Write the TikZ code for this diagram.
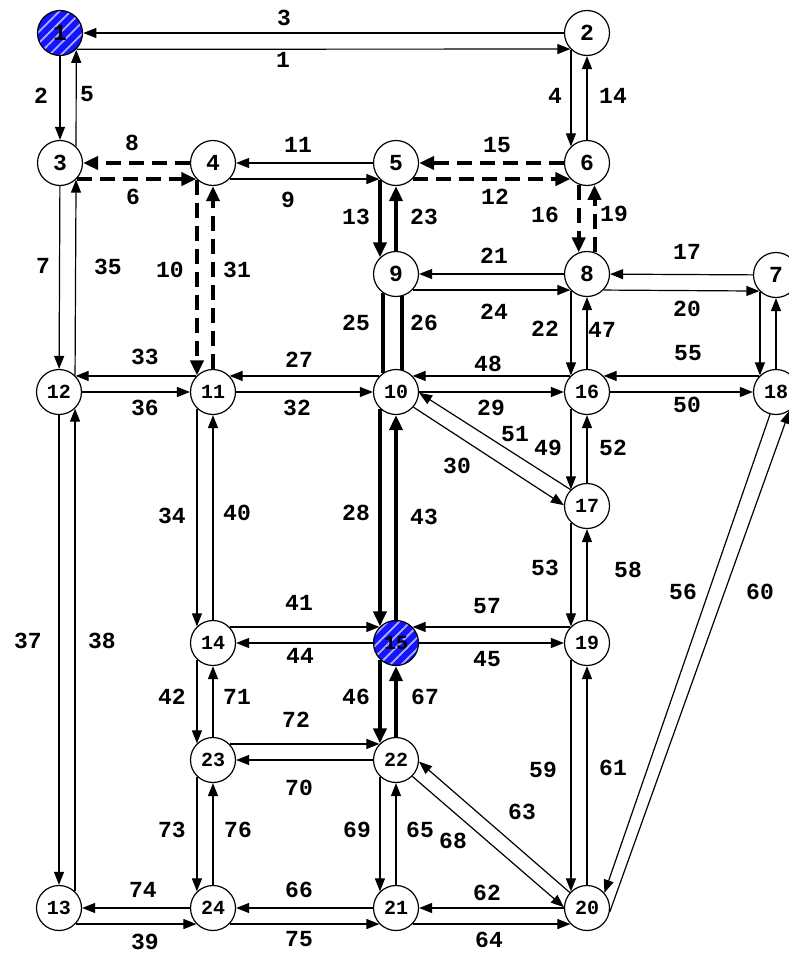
\documentclass[tikz,border=0pt]{standalone}
\usepackage{fontspec}
\setmonofont{Liberation Mono}
\usetikzlibrary{arrows.meta,patterns.meta}
\newcommand\edgelab[3]{\node[lbl] (l#1) at (#2,#3) {#1};}
\begin{document}
\begin{tikzpicture}[x=1pt,y=-1pt,
  nd/.style={circle,draw,line width=1.2pt,minimum size=45pt,inner sep=0pt,fill=white,
    font=\ttfamily\bfseries\fontsize{23}{23}\selectfont},
  nd2/.style={nd,font=\ttfamily\bfseries\fontsize{20}{20}\selectfont},
  hatch/.style={preaction={fill={rgb,255:red,20;green,20;blue,255}},
    pattern={Lines[angle=45,distance=8pt,line width=1.8pt]},
    pattern color={rgb,255:red,175;green,175;blue,255}},
  lbl/.style={font=\ttfamily\bfseries\fontsize{23}{23}\selectfont,inner sep=0pt},
  ed/.style={line width=1.2pt,-{Triangle[length=13pt,width=10pt]}},
  thk/.style={line width=4pt,-{Triangle[length=15pt,width=13pt]}},
  thkn/.style={line width=4pt},
  dsh/.style={thk,dash pattern=on 15pt off 8pt},
]
\clip (0,0) rectangle (789,953);
% nodes
\node[nd,hatch] (n1) at (60,33) {1};
\node[nd] (n2) at (587,33) {2};
\node[nd] (n3) at (60,163) {3};
\node[nd] (n4) at (213,163) {4};
\node[nd] (n5) at (396,163) {5};
\node[nd] (n6) at (587,163) {6};
\node[nd] (n7) at (776,275) {7};
\node[nd] (n8) at (587,274) {8};
\node[nd] (n9) at (396,274) {9};
\node[nd2] (n10) at (396,392) {10};
\node[nd2] (n11) at (213,392) {11};
\node[nd2] (n12) at (59,392) {12};
\node[nd2] (n13) at (59,908) {13};
\node[nd2] (n14) at (213,643) {14};
\node[nd2,hatch] (n15) at (396,643) {15};
\node[nd2] (n16) at (587,392) {16};
\node[nd2] (n17) at (587,506) {17};
\node[nd2] (n18) at (776,392) {18};
\node[nd2] (n19) at (587,643) {19};
\node[nd2] (n20) at (587,908) {20};
\node[nd2] (n21) at (396,908) {21};
\node[nd2] (n22) at (396,760) {22};
\node[nd2] (n23) at (213,760) {23};
\node[nd2] (n24) at (213,908) {24};
% horizontal links
\draw[ed] (n2) -- (n1);
\draw[ed] (n1.-44) -- (n2.-136);
\draw[dsh] (n4) -- (n3);
\draw[dsh] (n3.-44) -- (n4.-136);
\draw[ed] (n5) -- (n4);
\draw[ed] (n4.-44) -- (n5.-136);
\draw[dsh] (n6) -- (n5);
\draw[dsh] (n5.-44) -- (n6.-136);
\draw[ed] (n8) -- (n9);
\draw[ed] (n9.-44) -- (n8.-136);
\draw[ed] (n7) -- (n8);
\draw[ed] (n8.-44) -- (n7.-136);
\draw[ed] (n11.136) -- (n12.44);
\draw[ed] (n12) -- (n11);
\draw[ed] (n10.136) -- (n11.44);
\draw[ed] (n11) -- (n10);
\draw[ed] (n16.136) -- (n10.44);
\draw[ed] (n10) -- (n16);
\draw[ed] (n18.136) -- (n16.44);
\draw[ed] (n16) -- (n18);
\draw[ed] (n14.44) -- (n15.136);
\draw[ed] (n15) -- (n14);
\draw[ed] (n19.136) -- (n15.44);
\draw[ed] (n15) -- (n19);
\draw[ed] (n23.44) -- (n22.136);
\draw[ed] (n22) -- (n23);
\draw[ed] (n24) -- (n13);
\draw[ed] (n13.-44) -- (n24.-136);
\draw[ed] (n21) -- (n24);
\draw[ed] (n24.-44) -- (n21.-136);
\draw[ed] (n20) -- (n21);
\draw[ed] (n21.-44) -- (n20.-136);
% vertical links
\draw[ed] (n1) -- (n3);
\draw[ed] (n3.46) -- (n1.-46);
\draw[ed] (n2.-134) -- (n6.134);
\draw[ed] (n6) -- (n2);
\draw[ed] (n3) -- (n12);
\draw[ed] (n12.46) -- (n3.-46);
\draw[dsh] (n4.-134) -- (n11.134);
\draw[dsh] (n11) -- (n4);
\draw[thk] (n5.-134) -- (n9.134);
\draw[thk] (n9) -- (n5);
\draw[dsh] (n6.-111) -- (n8.111);
\draw[dsh] (n8.71) -- (n6.-71);
\draw[ed] (n7.-134) -- (n18.134);
\draw[ed] (n18) -- (n7);
\draw[ed] (n8.-134) -- (n16.134);
\draw[ed] (n16) -- (n8);
\draw[thkn] (n9.-124) -- (n10.124);
\draw[thkn] (n10.75) -- (n9.-75);
\draw[thk] (n10.-134) -- (n15.134);
\draw[thk] (n15) -- (n10);
\draw[ed] (n11.-134) -- (n14.134);
\draw[ed] (n14) -- (n11);
\draw[ed] (n12) -- (n13);
\draw[ed] (n13.46) -- (n12.-46);
\draw[ed] (n14.-134) -- (n23.134);
\draw[ed] (n23) -- (n14);
\draw[thk] (n15.-134) -- (n22.134);
\draw[thk] (n22) -- (n15);
\draw[ed] (n16.-134) -- (n17.134);
\draw[ed] (n17) -- (n16);
\draw[ed] (n17.-134) -- (n19.134);
\draw[ed] (n19) -- (n17);
\draw[ed] (n19.-134) -- (n20.134);
\draw[ed] (n20) -- (n19);
\draw[ed] (n22.-134) -- (n21.134);
\draw[ed] (n21) -- (n22);
\draw[ed] (n23.-134) -- (n24.134);
\draw[ed] (n24) -- (n23);
% diagonal links
\draw[ed] (n10.-41) -- (n17.178);
\draw[ed] (n17.135) -- (n10.-2);
\draw[ed] (n20.138) -- (n22.-4);
\draw[ed] (n22.-45) -- (n20.178);
\draw[ed] (n18.-105) -- (n20.41);
\draw[ed] (n20.-10) -- (n18.-54);
% labels
\edgelab{1}{283}{60}
\edgelab{2}{41}{96}
\edgelab{3}{284}{18}
\edgelab{4}{555}{96}
\edgelab{5}{87}{94}
\edgelab{6}{133}{197}
\edgelab{7}{43}{266}
\edgelab{8}{132}{143}
\edgelab{9}{288}{200}
\edgelab{10}{170}{270}
\edgelab{11}{298}{145}
\edgelab{12}{495}{197}
\edgelab{13}{356}{217}
\edgelab{14}{613}{96}
\edgelab{15}{497}{145}
\edgelab{16}{545}{215}
\edgelab{17}{687}{252}
\edgelab{19}{614}{214}
\edgelab{20}{687}{309}
\edgelab{21}{494}{256}
\edgelab{22}{545}{329}
\edgelab{23}{424}{217}
\edgelab{24}{494}{312}
\edgelab{25}{356}{323}
\edgelab{26}{424}{323}
\edgelab{27}{299}{360}
\edgelab{28}{356}{513}
\edgelab{29}{491}{408}
\edgelab{30}{457}{466}
\edgelab{31}{237}{270}
\edgelab{32}{297}{408}
\edgelab{33}{145}{357}
\edgelab{34}{172}{516}
\edgelab{35}{108}{267}
\edgelab{36}{145}{408}
\edgelab{37}{28}{641}
\edgelab{38}{102}{641}
\edgelab{39}{145}{942}
\edgelab{40}{237}{513}
\edgelab{41}{299}{603}
\edgelab{42}{172}{697}
\edgelab{43}{424}{517}
\edgelab{44}{300}{656}
\edgelab{45}{487}{659}
\edgelab{46}{356}{697}
\edgelab{47}{602}{330}
\edgelab{48}{488}{364}
\edgelab{49}{548}{448}
\edgelab{50}{687}{405}
\edgelab{51}{515}{434}
\edgelab{52}{613}{448}
\edgelab{53}{545}{568}
\edgelab{55}{688}{353}
\edgelab{56}{683}{592}
\edgelab{57}{487}{606}
\edgelab{58}{628}{570}
\edgelab{59}{543}{770}
\edgelab{60}{760}{592}
\edgelab{61}{613}{768}
\edgelab{62}{487}{893}
\edgelab{63}{522}{812}
\edgelab{64}{489}{940}
\edgelab{65}{420}{830}
\edgelab{66}{299}{890}
\edgelab{67}{425}{697}
\edgelab{68}{453}{841}
\edgelab{69}{357}{830}
\edgelab{70}{299}{788}
\edgelab{71}{237}{697}
\edgelab{72}{296}{720}
\edgelab{73}{172}{830}
\edgelab{74}{143}{890}
\edgelab{75}{299}{939}
\edgelab{76}{238}{830}
\end{tikzpicture}
\end{document}
